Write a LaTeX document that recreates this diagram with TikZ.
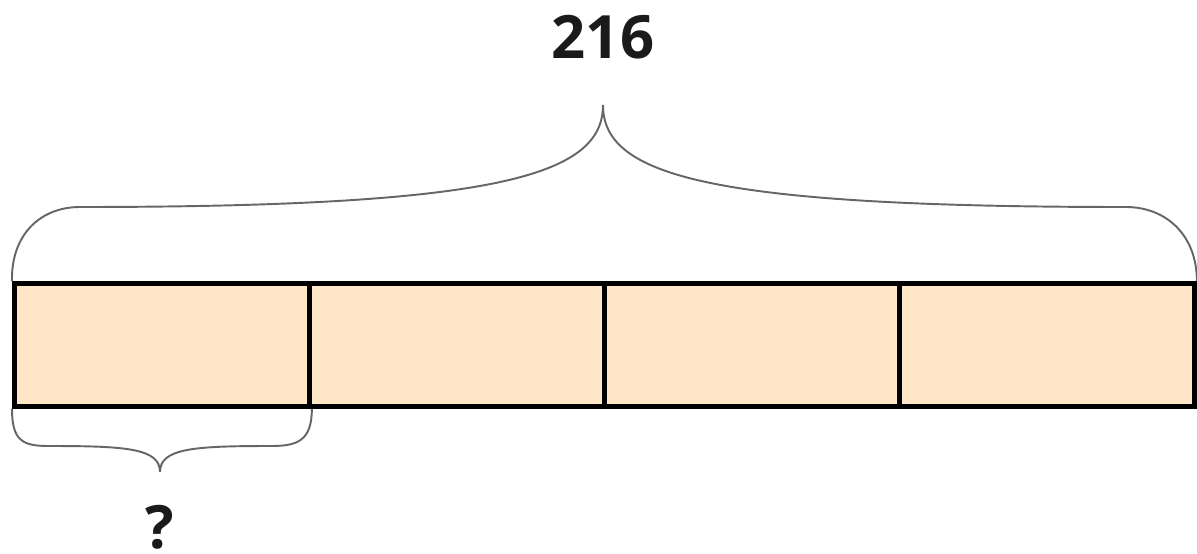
\documentclass[tikz,border=0pt]{standalone}
\usepackage{fontspec}
\setmainfont{Open Sans}
\begin{document}
\begin{tikzpicture}[x=0.02cm,y=-0.02cm,
  part/.style={draw=black,line width=2.8pt,fill=partfill,minimum width=5.9cm,minimum height=2.46cm,inner sep=0pt,anchor=north west},
  brace/.style={draw=bracegray,line width=1.1pt},
  label/.style={font=\fontsize{34}{36}\selectfont\bfseries,text=labelblack,inner sep=0pt}]
\definecolor{partfill}{HTML}{FFE6C7}
\definecolor{bracegray}{HTML}{666666}
\definecolor{labelblack}{HTML}{1A1A1A}
\useasboundingbox (0,0) rectangle (1197,554);
\node[part] (b1) at (12,281) {};
\node[part] (b2) at (307,281) {};
\node[part] (b3) at (602,281) {};
\node[part] (b4) at (897,281) {};
\coordinate (ttip) at (603,105);
\coordinate (btip) at (160,472);
\path[brace] (b1.north west) .. controls (11,235) and (40,207) .. (80,207)
  .. controls (500,207) and (603,175) .. (ttip)
  .. controls (603,175) and (706,207) .. (1126,207)
  .. controls (1166,207) and (b4.north east|-{(0,235)}) .. (b4.north east);
\path[brace] (b1.south west) .. controls (12,440) and (22,446) .. (48,446)
  .. controls (125,446) and (160,448) .. (btip)
  .. controls (160,448) and (195,446) .. (272,446)
  .. controls (298,446) and (b1.south east|-{(0,440)}) .. (b1.south east);
\node[label] (total) at (603,37) {216};
\node[label] (q) at (160,527) {?};
\end{tikzpicture}
\end{document}
